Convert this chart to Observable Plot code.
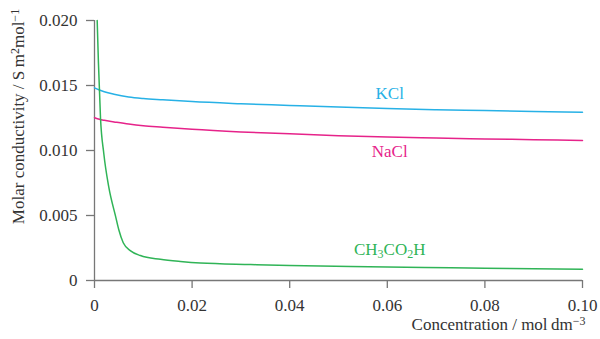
<!DOCTYPE html>
<html><head><meta charset="utf-8">
<script src="https://cdn.jsdelivr.net/npm/d3@7"></script>
<script src="https://cdn.jsdelivr.net/npm/@observablehq/plot@0.6"></script>
<style>body{margin:0;background:#fff}</style>
</head><body><div id="chart"></div>
<script>
// Data
const kclConc   = [0, 0.001, 0.002, 0.004, 0.007, 0.010, 0.014, 0.020, 0.030, 0.040, 0.050, 0.060, 0.070, 0.080, 0.090, 0.100];
const kclValues = [0.01482, 0.01465, 0.01452, 0.01433, 0.01412, 0.01400, 0.01390, 0.01376, 0.01360, 0.01347, 0.01334, 0.01323, 0.01314, 0.01307, 0.01300, 0.01295];

const naclConc   = [0, 0.001, 0.002, 0.004, 0.007, 0.010, 0.014, 0.020, 0.030, 0.040, 0.050, 0.060, 0.070, 0.080, 0.090, 0.100];
const naclValues = [0.01252, 0.01240, 0.01232, 0.01220, 0.01203, 0.01190, 0.01179, 0.01163, 0.01143, 0.01128, 0.01114, 0.01104, 0.01096, 0.01089, 0.01083, 0.01077];

const acidConc   = [0.00055, 0.0008, 0.00123, 0.00191, 0.00293, 0.00431, 0.00498, 0.00589, 0.0074, 0.0094, 0.0135, 0.0176, 0.0217, 0.032, 0.040, 0.0525, 0.060, 0.073, 0.080, 0.090, 0.100];
const acidValues = [0.0200, 0.0168, 0.0125, 0.00975, 0.00718, 0.00495, 0.0039, 0.0029, 0.00228, 0.00192, 0.00163, 0.00146, 0.00134, 0.00123, 0.00116, 0.00108, 0.00104, 0.00098, 0.00095, 0.00091, 0.00087];

const seriesNames = ["KCl", "NaCl", "CH3CO2H"];
const labelConc   = [0.0605, 0.0605, 0.0605];
const labelValues = [0.01438, 0.00992, 0.00238];

const xTicks = [0, 0.02, 0.04, 0.06, 0.08, 0.10];
const xTickLabels = ["0", "0.02", "0.04", "0.06", "0.08", "0.10"];
const yTicks = [0, 0.005, 0.010, 0.015, 0.020];
const yTickLabels = ["0", "0.005", "0.010", "0.015", "0.020"];

const colors = {KCl: "#27b1e6", NaCl: "#e6238a", CH3CO2H: "#30b457"};
const axisColor = "#777";
const textColor = "#333";

const toRows = (cs, vs) => cs.map((c, i) => ({c, v: vs[i]}));
const labels = seriesNames.map((n, i) => ({name: n, c: labelConc[i], v: labelValues[i]}));

const chart = Plot.plot({
  width: 600,
  height: 339,
  marginLeft: 94,
  marginRight: 18,
  marginTop: 20,
  marginBottom: 59,
  style: {fontFamily: "'Liberation Serif', 'Times New Roman', serif", fontSize: "17px", color: textColor, background: "#fff"},
  x: {domain: [0, 0.1]},
  y: {domain: [0, 0.02]},
  marks: [
    Plot.axisX({ticks: xTicks, tickFormat: d => xTickLabels[xTicks.indexOf(d)], tickSize: 8, tickPadding: 10, stroke: axisColor, strokeWidth: 1.3, label: null, fill: textColor}),
    Plot.axisY({ticks: yTicks, tickFormat: d => yTickLabels[yTicks.indexOf(d)], tickSize: 8, tickPadding: 9, stroke: axisColor, strokeWidth: 1.3, label: null, fill: textColor}),
    Plot.ruleY([0], {stroke: axisColor, strokeWidth: 1.3}),
    Plot.ruleX([0], {stroke: axisColor, strokeWidth: 1.3}),
    Plot.line(toRows(kclConc, kclValues), {x: "c", y: "v", stroke: colors.KCl, strokeWidth: 1.5, curve: "monotone-x"}),
    Plot.line(toRows(naclConc, naclValues), {x: "c", y: "v", stroke: colors.NaCl, strokeWidth: 1.5, curve: "monotone-x"}),
    Plot.line(toRows(acidConc, acidValues), {x: "c", y: "v", stroke: colors.CH3CO2H, strokeWidth: 1.5, curve: "monotone-x"}),
    Plot.text(labels, {x: "c", y: "v", text: "name", fill: d => colors[d.name], fontSize: 17}),
    Plot.text(["Concentration / mol dm-3"], {frameAnchor: "bottom-right", textAnchor: "end", dx: 3, dy: 49, fill: textColor, fontSize: 17}),
    Plot.text(["Molar conductivity / S m2mol-1"], {frameAnchor: "left", textAnchor: "middle", rotate: -90, dx: -76, dy: -34, fill: textColor, fontSize: 17})
  ]
});
document.getElementById("chart").appendChild(chart);

// Rich text: subscripts and superscripts as real tspans
const svg = d3.select(chart);
function rich(match, parts) {
  svg.selectAll("text").filter(function() { return this.textContent === match; }).each(function() {
    const t = d3.select(this);
    t.text(null);
    parts.forEach(([s, kind]) => {
      const sp = t.append("tspan").text(s);
      if (kind === "sub") sp.attr("baseline-shift", "-25%").attr("font-size", "12px");
      if (kind === "sup") sp.attr("baseline-shift", "40%").attr("font-size", "12px");
    });
  });
}
rich("CH3CO2H", [["CH"], ["3", "sub"], ["CO"], ["2", "sub"], ["H"]]);
rich("Concentration / mol dm-3", [["Concentration / mol\u2009dm"], ["\u22123", "sup"]]);
rich("Molar conductivity / S m2mol-1", [["Molar conductivity / S\u2009m"], ["2", "sup"], ["mol"], ["\u22121", "sup"]]);
</script>
</body></html>
